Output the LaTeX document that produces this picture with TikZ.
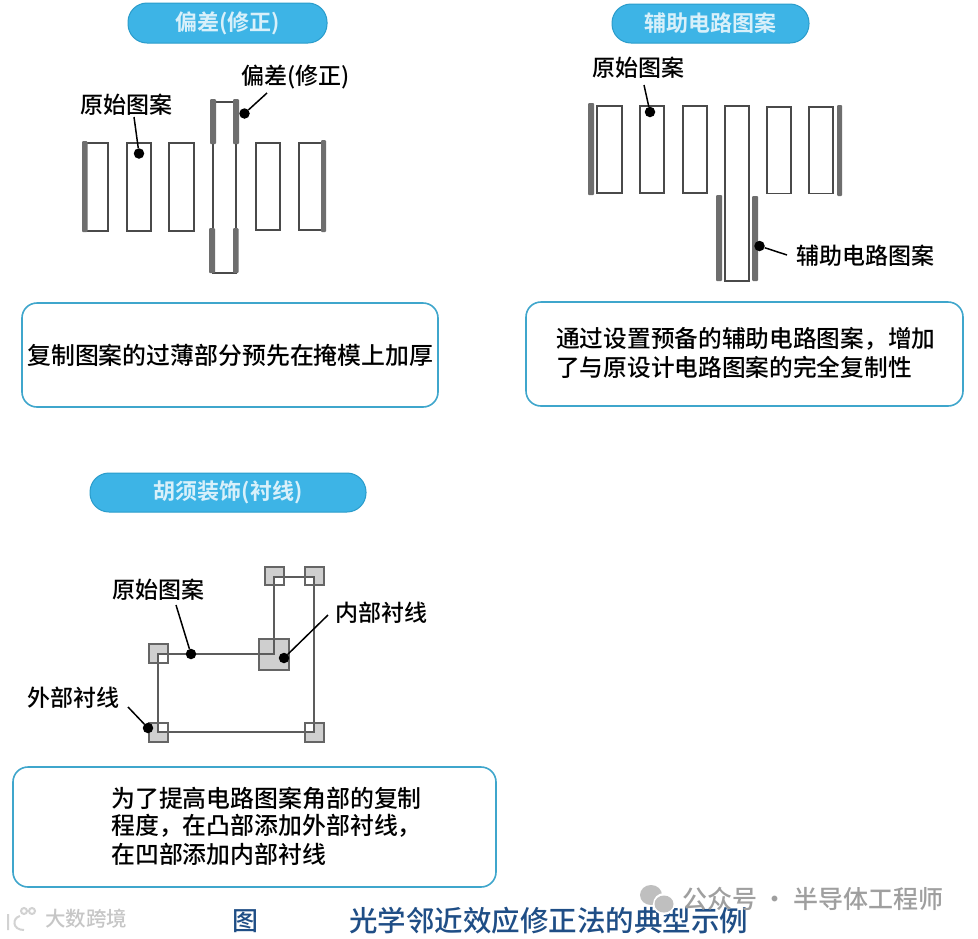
\documentclass[tikz,border=0pt]{standalone}
\usepackage{fontspec}
\setmainfont{Noto Sans CJK SC}[UprightFont={* Medium},BoldFont={* Bold}]
\newcommand{\fs}[1]{\fontsize{#1}{#1}\selectfont}
\definecolor{pillblue}{HTML}{3DB4E6}
\definecolor{pilledge}{HTML}{2A9CCB}
\definecolor{boxblue}{HTML}{3FA6CC}
\definecolor{capblue}{HTML}{1F4E86}
\definecolor{barg}{HTML}{6E6E6E}
\definecolor{lineg}{HTML}{4A4A4A}
\definecolor{serifg}{HTML}{CFCFCF}
\tikzset{
  x=1pt,y=-1pt,
  pat/.style={draw=lineg,line width=1.3pt,fill=white},
  bar/.style={fill=barg,rounded corners=1pt},
  thin line/.style={draw=lineg!90,line width=1.6pt},
  serif/.style={fill=serifg,draw=lineg!85,line width=1.1pt},
  serifline/.style={draw=lineg!85,line width=1.1pt},
  pill/.style={fill=pillblue,draw=pilledge,line width=1pt,rounded corners=19pt,inner sep=0pt,text=white!80!pillblue,font=\bfseries\fs{22}},
  note/.style={fill=white,draw=boxblue,line width=1.6pt,rounded corners=15pt},
  lab/.style={inner sep=0pt,anchor=west,text=black,font=\fs{23}},
  body/.style={inner sep=0pt,anchor=west,text=black,font=\fs{23.3}},
  dot/.style={circle,fill=black,inner sep=0pt,minimum size=10.5pt},
  leader/.style={draw=black,line width=1.5pt},
}
\begin{document}
\begin{tikzpicture}
\useasboundingbox (0,0) rectangle (978,938);
\fill[white] (0,0) rectangle (978,938);

% ---------- pills
\node[pill,minimum width=199pt,minimum height=40pt] (p1) at (227.5,23) {偏差(修正)};
\node[pill,minimum width=197pt,minimum height=39pt] (p2) at (710.5,23.5) {辅助电路图案};
\node[pill,minimum width=276pt,minimum height=39pt] (p3) at (228,492.5) {胡须装饰(衬线)};

% ---------- panel 1
\draw[pat] (85,143) rectangle (108,231);
\draw[pat] (127,143) rectangle (151,231);
\draw[pat] (169,143) rectangle (194,231);
\draw[pat] (256,143) rectangle (280,230);
\draw[pat] (299,143) rectangle (322,230);
\draw[pat] (213,102) rectangle (236,273);
\fill[bar] (82,141) rectangle (87.5,232);
\fill[bar] (321,140) rectangle (326,232);
\fill[bar] (210,99) rectangle (216,144);
\fill[bar] (233,99) rectangle (239,144);
\fill[bar] (209,228) rectangle (215,273);
\fill[bar] (233,228) rectangle (238.5,273);
\node[lab] (a1) at (80,105) {原始图案};
\node[dot] (a1d) at (139,153.5) {};
\coordinate (a1s) at (134,117);
\draw[leader] (a1s) -- (a1d);
\node[lab] (a2) at (241,77) {偏差(修正)};
\node[dot] (a2d) at (244.5,113.5) {};
\coordinate (a2s) at (267,93);
\draw[leader] (a2s) -- (a2d);

% ---------- panel 2
\draw[pat] (597,106) rectangle (622,193);
\draw[pat] (640,106) rectangle (664,193);
\draw[pat] (683,106) rectangle (707,193);
\draw[pat] (725,106) rectangle (749,281);
\draw[pat] (767,107) rectangle (791,193.5);
\draw[pat] (809,107) rectangle (833,193.5);
\fill[bar] (588,103) rectangle (594,195);
\fill[bar] (837,105) rectangle (842,196);
\fill[bar] (716,195) rectangle (722,281);
\fill[bar] (752,196) rectangle (758,281);
\node[lab] (b1) at (592,68) {原始图案};
\node[dot] (b1d) at (650,112) {};
\coordinate (b1s) at (644,85);
\draw[leader] (b1s) -- (b1d);
\node[lab] (b2) at (796,256) {辅助电路图案};
\node[dot] (b2d) at (759.5,246) {};
\coordinate (b2s) at (787,255);
\draw[leader] (b2s) -- (b2d);

% ---------- panel 3
\draw[serif] (265,567) rectangle (284,585);
\draw[serif] (305,567) rectangle (324,585);
\draw[serif] (149,644) rectangle (168,663);
\draw[serif] (149,723) rectangle (168,742);
\draw[serif] (305,723) rectangle (324,742);
\draw[thin line,fill=white] (158,654) -- (274,654) -- (274,577) -- (314,577) -- (314,732) -- (158,732) -- cycle;
\draw[serifline] (265,567) rectangle (284,585);
\draw[serifline] (305,567) rectangle (324,585);
\draw[serifline] (149,644) rectangle (168,663);
\draw[serifline] (149,723) rectangle (168,742);
\draw[serifline] (305,723) rectangle (324,742);
\draw[serif] (259,639) rectangle (289,670);
\draw[thin line] (259,654) -- (274,654) -- (274,639);
\node[lab] (c1) at (112,590) {原始图案};
\node[dot] (c1d) at (191,654) {};
\coordinate (c1s) at (176,605);
\draw[leader] (c1s) -- (c1d);
\node[lab] (c2) at (335,613) {内部衬线};
\node[dot] (c2d) at (284,658) {};
\coordinate (c2s) at (328,615);
\draw[leader] (c2s) -- (c2d);
\node[lab] (c3) at (27,698) {外部衬线};
\node[dot] (c3d) at (148,728) {};
\coordinate (c3s) at (128,707);
\draw[leader] (c3s) -- (c3d);

% ---------- notes
\draw[note] (22,303) rectangle (438,407);
\node[body,font=\fs{23.9}] (n1) at (27,355) {复制图案的过薄部分预先在掩模上加厚};
\draw[note] (526,302) rectangle (963,406);
\node[body,font=\fs{23.7}] (n2a) at (556,339) {通过设置预备的辅助电路图案，增加};
\node[body,font=\fs{23.7}] (n2b) at (556,367) {了与原设计电路图案的完全复制性};
\draw[note] (13,767) rectangle (496,887);
\node[body,font=\fs{23.9}] (n3a) at (111,798) {为了提高电路图案角部的复制};
\node[body,font=\fs{23.9}] (n3b) at (111,826) {程度，在凸部添加外部衬线，};
\node[body,font=\fs{23.9}] (n3c) at (111,854) {在凹部添加内部衬线};

% ---------- caption
\node[inner sep=0pt,anchor=west,text=capblue,font=\fs{26}] (t1) at (232,921) {图};
\node[inner sep=0pt,anchor=west,text=capblue,font=\fs{28.5}] (t2) at (349,921) {光学邻近效应修正法的典型示例};

% ---------- watermarks
\fill[gray!50] (651,895) ellipse (11pt and 10pt);
\fill[white] (664,904) circle (11pt);
\fill[gray!50] (664,904) ellipse (9.5pt and 8.5pt);
\node[inner sep=0pt,anchor=west,text=gray!75,font=\fs{25}] (w1) at (682,899) {公众号 · 半导体工程师};
\draw[gray!35,line width=2pt] (8,914) -- (8,930) (20,916) .. controls (12,918) and (12,930) .. (24,930) (24,911) circle (3pt) (32,911) circle (3pt);
\node[inner sep=0pt,anchor=west,text=gray!45,font=\fs{20.5}] (w2) at (45,919) {大数跨境};
\end{tikzpicture}
\end{document}
